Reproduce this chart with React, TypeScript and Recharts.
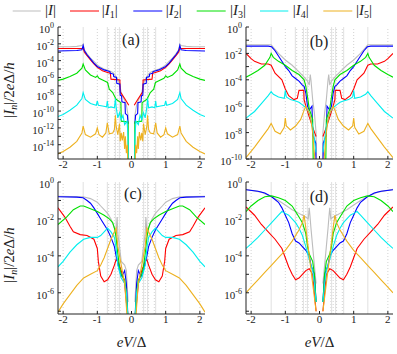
import React from "react";
import { LineChart, Line, XAxis, YAxis, ReferenceLine } from "recharts";

type Pt = [number, number];

const FONT = "Liberation Serif, DejaVu Serif, serif";
const NAMES = ["", "1", "2", "3", "4", "5"];
const COLORS = ["#bdbdbd", "#ff0000", "#0000ff", "#00e000", "#00eeee", "#edb120"];
const X_TICKS = [-2, -1, 0, 1, 2];
const SOLID_V = [-1.414, -0.707, -0.471, -0.354, 0.354, 0.471, 0.707, 1.414];
const DOTTED_V = [-2, -1, -0.667, -0.5, -0.4, -0.333, 0.333, 0.4, 0.5, 0.667, 1, 2];
const Y_EXP_A = [0, -1, -2, -3, -4, -5, -6, -7, -8, -9, -10, -11, -12, -13, -14, -15];
const Y_EXP_B = [0, -1, -2, -3, -4, -5, -6, -7, -8, -9, -10];
const Y_EXP_CD = [0, -1, -2, -3, -4, -5, -6, -7];

// values for eV/Δ >= 0 as [eV/Δ, log10 |I_n|]; the curves are mirrored to eV/Δ < 0
const A_I: Pt[] = [[0.08,-20],[0.1,-10.5],[0.15,-9.3],[0.2,-8.7],[0.25,-8.3],[0.3,-7.8],[0.35,-6.8],[0.4,-6.2],[0.45,-5.9],[0.5,-5.6],[0.55,-5.4],[0.65,-5.2],[0.8,-5.0],[0.9,-4.8],[1.0,-4.5],[1.1,-4.1],[1.2,-3.7],[1.3,-3.2],[1.38,-2.7],[1.414,-2.05],[1.45,-2.2],[1.6,-2.3],[1.8,-2.35],[2.15,-2.35]];
const A_1: Pt[] = [[0.08,-9.3],[0.2,-8.5],[0.33,-7.7],[0.34,-6.3],[0.6,-6.2],[0.62,-5.5],[0.7,-5.4],[0.85,-5.2],[1.0,-4.8],[1.1,-4.4],[1.2,-3.9],[1.3,-3.4],[1.38,-3.0],[1.414,-2.5],[1.45,-2.55],[1.7,-2.55],[2.15,-2.55]];
const A_2: Pt[] = [[0.1,-11.5],[0.12,-10.5],[0.18,-10.3],[0.19,-9.0],[0.28,-8.9],[0.29,-8.2],[0.33,-8.1],[0.34,-6.8],[0.43,-6.7],[0.44,-6.0],[0.52,-5.9],[0.53,-5.6],[0.62,-5.5],[0.63,-5.3],[0.8,-5.1],[1.0,-4.7],[1.1,-4.3],[1.2,-3.8],[1.3,-3.3],[1.38,-2.8],[1.414,-2.2],[1.45,-2.7],[1.6,-2.8],[2.15,-2.85]];
const A_3: Pt[] = [[0.09,-20],[0.1,-11.3],[0.3,-11.2],[0.31,-9.0],[0.45,-8.6],[0.5,-8.2],[0.55,-7.8],[0.65,-7.4],[0.7,-6.6],[0.8,-6.4],[0.95,-6.1],[1.0,-5.8],[1.05,-6.0],[1.2,-5.7],[1.35,-5.1],[1.414,-4.4],[1.45,-4.9],[1.6,-5.5],[1.8,-5.9],[2.0,-6.2],[2.15,-6.35]];
const A_4: Pt[] = [[0.09,-20],[0.1,-13],[0.13,-11.2],[0.2,-11.6],[0.25,-10.5],[0.3,-11.0],[0.35,-10.2],[0.4,-10.8],[0.45,-9.5],[0.47,-8.5],[0.5,-9.6],[0.6,-9.5],[0.68,-9.6],[0.707,-8.8],[0.73,-9.5],[0.85,-9.4],[0.97,-9.3],[1.0,-8.8],[1.03,-9.3],[1.2,-9.1],[1.35,-8.6],[1.414,-7.8],[1.45,-8.5],[1.6,-9.3],[1.8,-9.9],[2.0,-10.4],[2.15,-10.65]];
const A_5: Pt[] = [[0.09,-20],[0.12,-14],[0.15,-15],[0.18,-13],[0.2,-14.5],[0.23,-12.5],[0.27,-13.5],[0.3,-12.6],[0.33,-13.6],[0.35,-11.5],[0.4,-12.8],[0.45,-11.8],[0.47,-10.5],[0.5,-12.2],[0.55,-12.6],[0.65,-12.7],[0.707,-11.4],[0.75,-12.6],[0.85,-13.1],[0.95,-12.8],[1.0,-12.0],[1.05,-12.7],[1.2,-13.1],[1.35,-12.8],[1.414,-11.8],[1.45,-12.6],[1.6,-13.6],[1.8,-14.3],[2.0,-14.8],[2.15,-15.1]];

const B_I: Pt[] = [[0.09,-11],[0.1,-8],[0.15,-6.5],[0.2,-5.5],[0.25,-4.0],[0.27,-3.6],[0.3,-4.4],[0.35,-4.1],[0.45,-3.8],[0.6,-3.4],[0.8,-2.9],[1.0,-2.5],[1.2,-2.0],[1.35,-1.55],[1.414,-1.35],[1.5,-1.35],[2.15,-1.35]];
const B_1: Pt[] = [[0.1,-8.3],[0.2,-7.6],[0.3,-6.8],[0.4,-6.0],[0.45,-5.5],[0.46,-4.8],[0.6,-4.8],[0.65,-5.4],[0.75,-5.5],[0.9,-5.2],[1.0,-4.7],[1.1,-4.0],[1.3,-3.5],[1.414,-2.9],[1.5,-2.8],[1.7,-2.8],[1.9,-2.6],[2.0,-2.4],[2.15,-2.0]];
const B_2: Pt[] = [[0.1,-11],[0.11,-8.8],[0.2,-8.2],[0.22,-6.0],[0.3,-6.3],[0.35,-6.0],[0.4,-5.0],[0.45,-4.5],[0.5,-4.4],[0.6,-4.1],[0.7,-3.9],[0.8,-3.7],[0.9,-3.3],[1.0,-3.0],[1.1,-2.6],[1.2,-2.2],[1.3,-1.8],[1.4,-1.5],[1.5,-1.45],[2.15,-1.45]];
const B_3: Pt[] = [[0.18,-11],[0.2,-7.0],[0.3,-6.2],[0.35,-5.3],[0.4,-4.5],[0.45,-4.0],[0.6,-3.6],[0.8,-3.3],[1.0,-2.9],[1.2,-2.6],[1.35,-2.3],[1.414,-2.0],[1.45,-2.3],[1.6,-2.9],[1.8,-3.3],[2.0,-3.6],[2.15,-3.8]];
const B_4: Pt[] = [[0.1,-9.5],[0.15,-8.5],[0.2,-7.5],[0.25,-7.0],[0.3,-6.5],[0.4,-6.1],[0.5,-5.9],[0.6,-5.7],[0.7,-5.6],[0.85,-5.5],[0.97,-5.3],[1.0,-4.8],[1.03,-5.4],[1.2,-5.3],[1.35,-5.1],[1.414,-4.9],[1.5,-5.2],[1.7,-5.8],[1.9,-6.4],[2.15,-6.9]];
const B_5: Pt[] = [[0.12,-10.5],[0.2,-8.0],[0.25,-7.0],[0.3,-6.5],[0.4,-6.0],[0.45,-6.3],[0.55,-7.0],[0.7,-7.5],[0.85,-7.8],[0.97,-7.5],[1.0,-6.9],[1.03,-7.6],[1.15,-8.1],[1.3,-7.9],[1.414,-7.3],[1.5,-7.7],[1.7,-8.4],[1.9,-9.1],[2.15,-9.9]];

const C_I: Pt[] = [[0.1,-6.5],[0.15,-4.8],[0.2,-4.5],[0.3,-4.3],[0.35,-3.5],[0.4,-2.8],[0.42,-1.9],[0.45,-2.6],[0.5,-2.5],[0.6,-2.0],[0.7,-1.7],[0.8,-1.5],[0.9,-1.3],[1.0,-1.1],[1.2,-0.9],[1.414,-0.8],[2.15,-0.78]];
const C_1: Pt[] = [[0.1,-7.5],[0.2,-5.5],[0.3,-4.8],[0.4,-4.3],[0.45,-4.2],[0.5,-4.5],[0.6,-5.0],[0.7,-5.3],[0.8,-5.4],[0.9,-5.1],[0.97,-4.3],[1.0,-3.6],[1.1,-3.1],[1.3,-2.9],[1.5,-2.85],[1.7,-2.7],[1.8,-2.4],[1.95,-1.9],[2.15,-1.4]];
const C_2: Pt[] = [[0.1,-7.5],[0.15,-5.5],[0.2,-4.8],[0.25,-5.0],[0.3,-5.1],[0.35,-4.8],[0.4,-4.4],[0.45,-4.0],[0.5,-3.5],[0.6,-3.0],[0.7,-2.6],[0.8,-2.3],[0.9,-2.0],[1.0,-1.7],[1.1,-1.4],[1.2,-1.15],[1.3,-1.0],[1.414,-0.85],[1.6,-0.82],[2.15,-0.8]];
const C_3: Pt[] = [[0.1,-7.5],[0.15,-6],[0.2,-5.3],[0.3,-5.0],[0.35,-4.6],[0.4,-3.9],[0.45,-3.0],[0.5,-2.5],[0.55,-2.2],[0.65,-2.0],[0.8,-1.8],[1.0,-1.6],[1.2,-1.45],[1.4,-1.3],[1.5,-1.3],[1.7,-1.5],[1.9,-1.9],[2.15,-2.3]];
const C_4: Pt[] = [[0.1,-7.5],[0.15,-6],[0.2,-5.5],[0.3,-5.2],[0.4,-4.5],[0.45,-3.6],[0.5,-3.0],[0.6,-2.7],[0.7,-2.5],[0.8,-2.7],[0.9,-2.9],[1.0,-3.0],[1.2,-3.0],[1.4,-3.1],[1.6,-3.4],[1.8,-3.8],[2.0,-4.3],[2.15,-4.6]];
const C_5: Pt[] = [[0.12,-7.5],[0.2,-5.5],[0.3,-4.5],[0.4,-3.5],[0.45,-2.5],[0.5,-2.7],[0.6,-3.1],[0.7,-3.6],[0.8,-4.1],[0.9,-4.5],[1.0,-4.8],[1.2,-5.0],[1.4,-5.2],[1.6,-5.6],[1.8,-6.1],[2.0,-6.6],[2.15,-7.05]];

const D_I: Pt[] = [[0.1,-5.5],[0.15,-4.5],[0.2,-3.5],[0.25,-2.5],[0.28,-1.8],[0.3,-1.4],[0.33,-2.0],[0.4,-1.9],[0.5,-1.8],[0.6,-1.7],[0.8,-1.5],[1.0,-1.25],[1.2,-1.0],[1.4,-0.8],[1.7,-0.55],[2.15,-0.4]];
const D_1: Pt[] = [[0.1,-7.0],[0.15,-6.0],[0.2,-5.0],[0.3,-4.7],[0.4,-4.8],[0.5,-5.0],[0.6,-5.2],[0.7,-5.3],[0.8,-5.0],[0.9,-4.6],[1.0,-4.1],[1.1,-3.6],[1.3,-3.1],[1.5,-2.7],[1.7,-2.3],[1.9,-1.8],[2.15,-1.35]];
const D_2: Pt[] = [[0.1,-6.5],[0.15,-5.0],[0.25,-4.5],[0.3,-4.0],[0.4,-3.7],[0.5,-3.5],[0.6,-3.3],[0.7,-3.2],[0.8,-2.8],[0.9,-2.2],[1.0,-1.8],[1.1,-1.4],[1.2,-1.1],[1.4,-0.8],[1.6,-0.6],[1.8,-0.5],[2.15,-0.42]];
const D_3: Pt[] = [[0.1,-6.5],[0.15,-5.0],[0.2,-4.3],[0.3,-3.9],[0.35,-3.5],[0.4,-2.8],[0.5,-2.2],[0.6,-1.9],[0.7,-1.6],[0.8,-1.3],[1.0,-1.0],[1.2,-0.85],[1.4,-0.75],[1.6,-0.8],[1.8,-1.0],[2.0,-1.3],[2.15,-1.6]];
const D_4: Pt[] = [[0.1,-6.5],[0.15,-5.5],[0.2,-4.8],[0.3,-4.2],[0.4,-3.5],[0.5,-2.9],[0.6,-2.5],[0.7,-2.2],[0.8,-2.0],[0.9,-1.8],[1.0,-1.7],[1.1,-1.6],[1.2,-1.8],[1.4,-2.2],[1.6,-2.6],[1.8,-3.0],[2.0,-3.35],[2.15,-3.6]];
const D_5: Pt[] = [[0.1,-7],[0.2,-5.5],[0.3,-4.0],[0.4,-2.5],[0.45,-1.8],[0.5,-2.2],[0.6,-2.6],[0.7,-2.9],[0.8,-3.2],[1.0,-3.7],[1.2,-4.1],[1.4,-4.5],[1.6,-4.9],[1.8,-5.3],[2.0,-5.7],[2.15,-6.0]];

const PW = 147;
const PH = 132;
const YW = 50;
const XH = 24;
const M = 10;

const toRows = (pts: Pt[]) => [
  ...pts.slice().reverse().map(([v, e]) => ({ v: -v, y: Math.pow(10, e) })),
  { v: 0, y: null },
  ...pts.map(([v, e]) => ({ v, y: Math.pow(10, e) })),
];

const YTick = (props: any) => {
  const { x, y, payload } = props;
  const e = Math.round(Math.log10(payload.value));
  if (e % 2 !== 0) return <g />;
  return (
    <text x={x} y={y + 6} textAnchor="end" fontFamily={FONT} fontSize={11} fill="#222">
      <tspan>10</tspan>
      <tspan dy={-5} fontSize={8}>{e}</tspan>
    </text>
  );
};

const XTick = (props: any) => {
  const { x, y, payload } = props;
  return (
    <text x={x} y={y + 9} textAnchor="middle" fontFamily={FONT} fontSize={11} fill="#222">
      {payload.value}
    </text>
  );
};

const Blank = () => <g />;

function Panel({ px, py, lo, exps, series }: { px: number; py: number; lo: number; exps: number[]; series: Pt[][] }) {
  const yTicks = exps.map((e) => Math.pow(10, e));
  const dom: [number, number] = [Math.pow(10, lo), 1];
  return (
    <div style={{ position: "absolute", left: px - YW, top: py - M }}>
      <LineChart width={YW + PW + M} height={M + PH + XH} margin={{ top: M, right: M, bottom: 0, left: 0 }}>
        <XAxis
          xAxisId="b"
          dataKey="v"
          type="number"
          domain={[-2.15, 2.15]}
          allowDataOverflow
          ticks={X_TICKS}
          height={XH}
          tickSize={-3}
          tickMargin={3}
          stroke="#222"
          tick={XTick}
        />
        <XAxis
          xAxisId="t"
          orientation="top"
          type="number"
          domain={[-2.15, 2.15]}
          allowDataOverflow
          ticks={X_TICKS}
          height={0}
          tickSize={-3}
          stroke="#222"
          tick={Blank}
        />
        <YAxis
          yAxisId="l"
          type="number"
          scale="log"
          domain={dom}
          allowDataOverflow
          ticks={yTicks}
          width={YW}
          tickSize={-3}
          tickMargin={7}
          stroke="#222"
          tick={YTick}
          interval={0}
        />
        <YAxis
          yAxisId="r"
          orientation="right"
          type="number"
          scale="log"
          domain={dom}
          allowDataOverflow
          ticks={yTicks}
          width={0}
          tickSize={-3}
          stroke="#222"
          tick={Blank}
          interval={0}
        />
        {DOTTED_V.map((v) => (
          <ReferenceLine key={"d" + v} x={v} xAxisId="b" yAxisId="l" stroke="#d2d2d2" strokeDasharray="1 2" />
        ))}
        {SOLID_V.map((v) => (
          <ReferenceLine key={"s" + v} x={v} xAxisId="b" yAxisId="l" stroke="#e0e0e0" />
        ))}
        {series.map((pts, i) => (
          <Line
            key={i}
            xAxisId="b"
            yAxisId="l"
            data={toRows(pts)}
            dataKey="y"
            stroke={COLORS[i]}
            strokeWidth={1.1}
            dot={false}
            isAnimationActive={false}
          />
        ))}
      </LineChart>
    </div>
  );
}

function LegendItem({ x0, x1, tx, i }: { x0: number; x1: number; tx: number; i: number }) {
  return (
    <g>
      <line x1={x0} x2={x1} y1={11} y2={11} stroke={COLORS[i]} strokeWidth={1} />
      <text x={tx} y={15} fontFamily={FONT} fontSize={15} fill="#222">
        <tspan>|</tspan>
        <tspan fontStyle="italic">I</tspan>
        {NAMES[i] ? (
          <>
            <tspan dy={3} fontSize={10}>{NAMES[i]}</tspan>
            <tspan dy={-3}>|</tspan>
          </>
        ) : (
          <tspan>|</tspan>
        )}
      </text>
    </g>
  );
}

const LEG = [
  [12.7, 40.7, 45],
  [70, 99, 101.7],
  [133.3, 162.3, 165.7],
  [196.7, 225.7, 230],
  [260, 288.3, 292.7],
  [323.3, 352.3, 356],
];

function YLabel({ cy }: { cy: number }) {
  return (
    <text x={14} y={cy} transform={`rotate(-90 14 ${cy})`} textAnchor="middle" fontFamily={FONT} fontSize={15} fill="#222">
      <tspan>|</tspan>
      <tspan fontStyle="italic">I</tspan>
      <tspan dy={3} fontSize={10} fontStyle="italic">n</tspan>
      <tspan dy={-3}>|/2</tspan>
      <tspan fontStyle="italic">e</tspan>
      <tspan>Δ/</tspan>
      <tspan fontStyle="italic">h</tspan>
    </text>
  );
}

function XLabel({ cx }: { cx: number }) {
  return (
    <text x={cx} y={347} textAnchor="middle" fontFamily={FONT} fontSize={15} fill="#222">
      <tspan fontStyle="italic">eV</tspan>
      <tspan>/Δ</tspan>
    </text>
  );
}

const Tag = ({ x, y, t }: { x: number; y: number; t: string }) => (
  <text x={x} y={y} textAnchor="middle" fontFamily={FONT} fontSize={16} fill="#222">
    {t}
  </text>
);

export default function App() {
  return (
    <div style={{ position: "absolute", left: 0, top: 0, width: 397, height: 354, background: "#fff", overflow: "hidden" }}>
      <Panel px={58} py={27} lo={-15.7} exps={Y_EXP_A} series={[A_I, A_1, A_2, A_3, A_4, A_5]} />
      <Panel px={246} py={27} lo={-10} exps={Y_EXP_B} series={[B_I, B_1, B_2, B_3, B_4, B_5]} />
      <Panel px={58} py={182} lo={-7.15} exps={Y_EXP_CD} series={[C_I, C_1, C_2, C_3, C_4, C_5]} />
      <Panel px={246} py={182} lo={-7.15} exps={Y_EXP_CD} series={[D_I, D_1, D_2, D_3, D_4, D_5]} />
      <svg width={397} height={354} style={{ position: "absolute", left: 0, top: 0, pointerEvents: "none" }}>
        {LEG.map(([a, b, t], i) => (
          <LegendItem key={i} x0={a} x1={b} tx={t} i={i} />
        ))}
        <YLabel cy={90} />
        <YLabel cy={255} />
        <XLabel cx={131.5} />
        <XLabel cx={319.5} />
        <Tag x={131} y={45} t="(a)" />
        <Tag x={319} y={47} t="(b)" />
        <Tag x={133} y={199} t="(c)" />
        <Tag x={319} y={202} t="(d)" />
      </svg>
    </div>
  );
}
